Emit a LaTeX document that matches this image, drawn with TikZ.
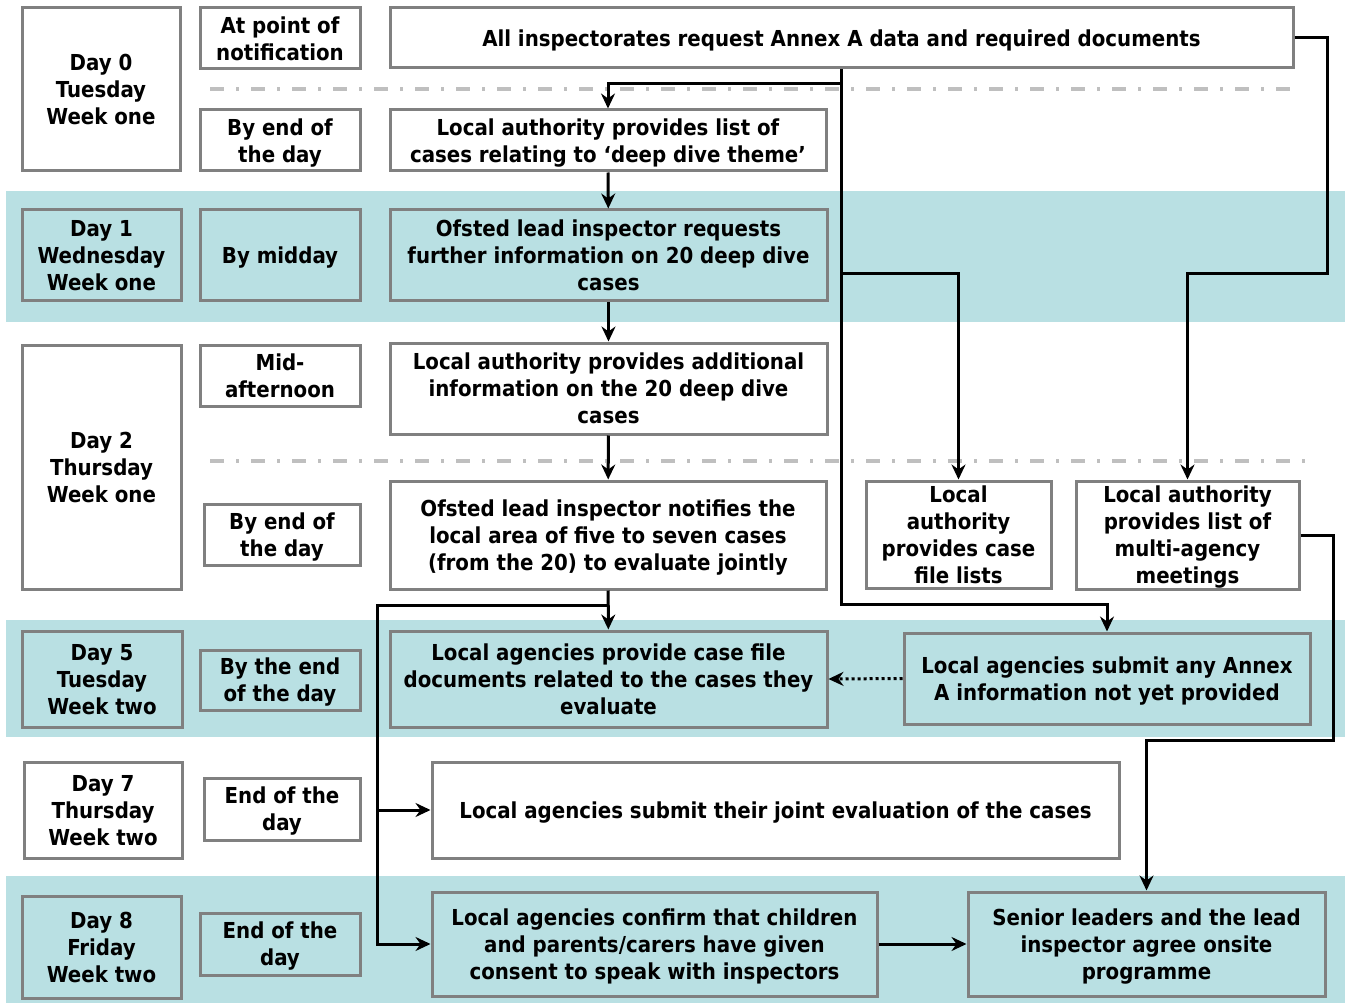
\documentclass[tikz,border=0pt]{standalone}
\usepackage{fontspec}
\newfontfamily\boxfont{DejaVu Sans Condensed}
\usetikzlibrary{arrows.meta}
\definecolor{band}{RGB}{185,224,227}
\definecolor{boxgray}{RGB}{128,128,128}
\definecolor{sepgray}{RGB}{191,191,191}
\tikzset{
  box/.style={draw=boxgray, line width=3pt, inner sep=0pt, align=center,
    font=\boxfont\bfseries\fontsize{22}{27}\selectfont, text depth=0pt},
  link/.style={line width=3pt, -{Stealth[length=15pt,width=14pt,inset=5pt]}},
  sepline/.style={sepgray, line width=4pt, dash pattern=on 14pt off 12pt on 3pt off 12pt}
}
\begin{document}
\begin{tikzpicture}[x=1pt,y=-1pt]
\fill[white] (0,0) rectangle (1345,1003);
\useasboundingbox (0,0) rectangle (1345,1003);

% shaded days
\fill[band] (6,191) rectangle (1345,322);
\fill[band] (6,620) rectangle (1345,737);
\fill[band] (6,876) rectangle (1345,1003);

\draw[sepline] (210,89) -- (1290,89);
\draw[sepline] (210,461) -- (1305,461);

% days
\node[box, minimum width=158, minimum height=163] (day0) at (101,89.5) {Day 0\\Tuesday\\Week one};
\node[box, minimum width=159, minimum height=91] (day1) at (101.5,255.5) {Day 1\\Wednesday\\Week one};
\node[box, minimum width=159, minimum height=244] (day2) at (101.5,467) {Day 2\\Thursday\\Week one};
\node[box, minimum width=160, minimum height=96] (day5) at (102,679) {Day 5\\Tuesday\\Week two};
\node[box, minimum width=158, minimum height=96] (day7) at (103,810) {Day 7\\Thursday\\Week two};
\node[box, minimum width=159, minimum height=102] (day8) at (101.5,947) {Day 8\\Friday\\Week two};

% times
\node[box, minimum width=160, minimum height=61] (notify) at (280,38.5) {At point of\\notification};
\node[box, minimum width=160, minimum height=61] (endday0) at (280,140.5) {By end of\\the day};
\node[box, minimum width=160, minimum height=91] (midday) at (280,255.5) {By midday};
\node[box, minimum width=160, minimum height=61] (midaft) at (280,375.5) {Mid-\\afternoon};
\node[box, minimum width=156, minimum height=61] (endday2) at (282,534.5) {By end of\\the day};
\node[box, minimum width=160, minimum height=60] (endday5) at (280,680) {By the end\\of the day};
\node[box, minimum width=156, minimum height=62] (endday7) at (282,809) {End of the\\day};
\node[box, minimum width=160, minimum height=62] (endday8) at (280,944) {End of the\\day};

% steps
\node[box, minimum width=903, minimum height=60] (request) at (841.5,38) {All inspectorates request Annex A data and required documents};
\node[box, minimum width=436, minimum height=61] (cases) at (608,140.5) {Local authority provides list of\\cases relating to ‘deep dive theme’};
\node[box, minimum width=437, minimum height=91] (further) at (608.5,255.5) {Ofsted lead inspector requests\\further information on 20 deep dive\\cases};
\node[box, minimum width=437, minimum height=91] (additional) at (608.5,388.5) {Local authority provides additional\\information on the 20 deep dive\\cases};
\node[box, minimum width=436, minimum height=108] (notifies) at (608,535) {Ofsted lead inspector notifies the\\local area of five to seven cases\\(from the 20) to evaluate jointly};
\node[box, minimum width=185, minimum height=107] (filelists) at (958.5,534.5) {Local\\authority\\provides case\\file lists};
\node[box, minimum width=223, minimum height=108] (meetings) at (1187.5,535) {Local authority\\provides list of\\multi-agency\\meetings};
\node[box, minimum width=437, minimum height=96] (documents) at (608.5,679) {Local agencies provide case file\\documents related to the cases they\\evaluate};
\node[box, minimum width=406, minimum height=91] (annex) at (1107,678.5) {Local agencies submit any Annex\\A information not yet provided};
\node[box, minimum width=687, minimum height=96] (evaluation) at (775.5,810) {Local agencies submit their joint evaluation of the cases};
\node[box, minimum width=445, minimum height=104] (consent) at (654.5,944) {Local agencies confirm that children\\and parents/carers have given\\consent to speak with inspectors};
\node[box, minimum width=357, minimum height=104] (onsite) at (1146.5,944) {Senior leaders and the lead\\inspector agree onsite\\programme};

% connectors
\coordinate (split) at (841.5,274);
\coordinate (split3) at (608,605);
\coordinate (rail) at (377,605);
\draw[link] (request.south) -- ++(0,14) -| (cases.north);
\draw[link] (request.south) -- ++(0,535) -| (annex.north);
\draw[link] (split) -| (filelists.north);
\draw[link] (request.east) -| ++(33,236) -| (meetings.north);
\draw[link] (cases) -- (further);
\draw[link] (further) -- (additional);
\draw[link] (additional) -- (notifies);
\draw[link] (notifies) -- (documents);
\draw[link] (split3) -- (rail) |- (consent.west);
\draw[link] (rail |- evaluation.west) -- (evaluation.west);
\draw[link] (meetings.east) -| ++(33,205) -| (onsite.north);
\draw[link, dash pattern=on 3pt off 3pt] (annex.west) -- (documents.east);
\draw[link] (consent) -- (onsite);

\end{tikzpicture}
\end{document}
